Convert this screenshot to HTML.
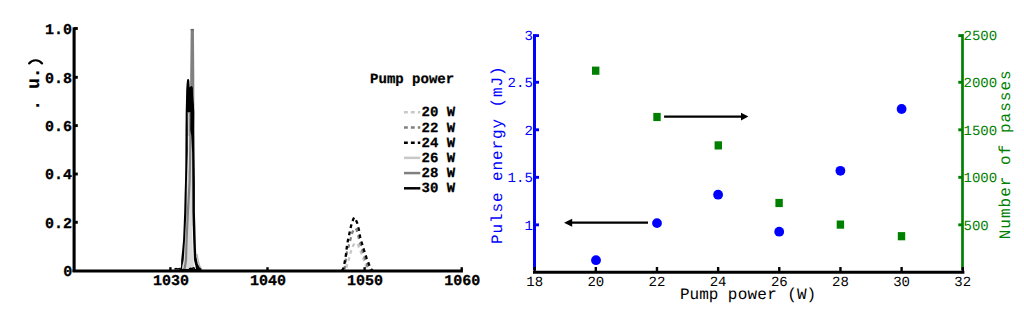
<!DOCTYPE html>
<html><head><meta charset="utf-8"><style>
html,body{margin:0;padding:0;background:#fff;width:1024px;height:314px;overflow:hidden}
svg{position:absolute;left:0;top:0}
text{font-family:"Liberation Mono", monospace;text-rendering:geometricPrecision}
.b15{font-size:15px;font-weight:bold;stroke:#000;stroke-width:0.3px}
.b14{font-size:14px;font-weight:bold;stroke:#000;stroke-width:0.25px}
.b18{font-size:18px;font-weight:bold;stroke:#000;stroke-width:0.2px}
.r14{font-size:14px}
.r16{font-size:16px}
.r17{font-size:17px}
</style></head><body>
<svg width="1024" height="314" viewBox="0 0 1024 314">
<path d="M344.00,270.70 L346.00,270.00 L347.10,265.00 L349.00,258.90 L350.70,252.20 L353.30,245.10 L355.50,243.00 L357.80,244.10 L360.90,252.20 L363.40,258.90 L365.50,264.50 L367.00,269.00 L369.00,270.70" fill="none" stroke="#c8c8c8" stroke-width="2.30" stroke-dasharray="3.80,3.50" stroke-dashoffset="3.00" stroke-linejoin="round"/>
<path d="M343.50,270.70 L344.50,269.00 L345.60,261.90 L346.60,253.30 L348.70,246.10 L350.50,239.30 L352.40,232.10 L354.50,228.30 L356.40,229.30 L358.20,235.50 L359.80,242.00 L361.80,249.00 L364.00,256.00 L366.50,263.00 L368.50,269.00 L370.00,270.70" fill="none" stroke="#808080" stroke-width="2.30" stroke-dasharray="3.80,3.50" stroke-dashoffset="5.90" stroke-linejoin="round"/>
<path d="M342.00,270.70 L343.30,268.50 L344.10,265.50 L345.90,255.30 L346.70,248.00 L347.80,241.00 L349.40,233.60 L351.00,226.20 L353.20,219.30 L354.20,217.50 L355.30,218.80 L357.00,222.40 L358.90,229.80 L360.10,236.70 L361.90,243.20 L364.00,250.20 L366.50,257.80 L369.00,264.50 L370.50,268.00 L372.00,270.30 L373.00,270.70" fill="none" stroke="#000" stroke-width="2.30" stroke-dasharray="3.80,3.50" stroke-dashoffset="0.17" stroke-linejoin="round"/>
<path d="M187.7,112 L187.8,130 L187.8,152 L186.9,182 L186.4,212 L185.0,240 L183.7,260 L182.3,266 L182,270 L196,270 L195.5,266 L194,260 L193.2,240 L192.4,212 L192.3,182 L192.1,152 L191.2,135 L190.3,130 L190.4,112 Z" fill="#dadada"/>
<path d="M187.7,112 L187.8,136 L191.2,136 L190.3,130 L190.4,112 Z" fill="#7a7a7a"/>
<path d="M188.9,113 L188.8,150 L188.4,170" stroke="#ececec" stroke-width="1.1" fill="none"/>
<path d="M192.6,226 L193.3,250 L194.2,262 L195,268" stroke="#f4f4f4" stroke-width="1.6" fill="none"/>
<path d="M197,254 L198.2,261 L199.8,266 L201.8,269.5" stroke="#b4b4b4" stroke-width="1.3" fill="none"/>
<path d="M190.7,28.9 H193.9 L194.3,76 V106 H190.2 V76 Z" fill="#808080"/><path d="M190.7,28.9 H193.9 V30.5 H190.7 Z" fill="#6a6a6a"/>
<path d="M190.6,100 L190.4,135 L190.2,152 L189.6,182 L187.9,212 L186.6,240 L186,260 L184.8,268 L183,270" stroke="#808080" stroke-width="2.2" fill="none"/>
<path fill-rule="evenodd" fill="#000" d="M176,271 L179.5,269.5 L181,267 L181.2,260 L182.2,250 L183.1,240 L183.7,225 L184.2,212 L184.6,195 L185.0,182 L185.3,165 L185.4,152 L185.5,130 L185.7,112 L186.0,100 L186.2,90 L186.6,84 L187.0,80.5 L187.6,79 L188.6,79 L189.3,80.5 L189.5,84 L189.7,87.2 L190.0,87.2 L190.4,86.6 L191.3,86.1 L192.3,86.5 L192.9,88 L193.0,94 L193.4,100 L194.1,106 L194.4,112 L194.3,130 L194.5,152 L194.9,182 L194.9,212 L195.3,225 L195.7,240 L196.0,250 L196.5,260 L197.5,265 L199,268 L201,269.5 L205,271 Z M187.7,112 L187.8,130 L187.8,152 L186.9,182 L186.4,212 L185.0,240 L183.7,260 L182.3,266 L182,269 L196,269 L195.5,266 L194,260 L193.2,240 L192.4,212 L192.3,182 L192.1,152 L191.2,135 L190.3,130 L190.4,112 Z"/>
<path d="M174.5,269.2 L176,268.6 L178,268.9 L180,268.4 M189,269 L190.5,268.2 L192,268.6 L193.3,267.8 L195,268.5" stroke="#000" stroke-width="1.5" fill="none"/>
<path d="M195.6,258 L197,264 L199,267.8 L201,269.6" stroke="#000" stroke-width="1.6" fill="none"/>
<path d="M74.1,27.3 V272" stroke="#000" stroke-width="3.1" fill="none"/>
<path d="M72.6,271.1 H462.9" stroke="#000" stroke-width="3" fill="none"/>
<path d="M74,28.5 H77.8" stroke="#000" stroke-width="2.9"/>
<path d="M74,77.3 H77.8" stroke="#000" stroke-width="2.9"/>
<path d="M74,125.6 H77.8" stroke="#000" stroke-width="2.9"/>
<path d="M74,174.0 H77.8" stroke="#000" stroke-width="2.9"/>
<path d="M74,222.3 H77.8" stroke="#000" stroke-width="2.9"/>
<path d="M170.4,271 V267.2" stroke="#000" stroke-width="2.4"/>
<path d="M267.5,271 V267.2" stroke="#000" stroke-width="2.4"/>
<path d="M364.6,271 V267.2" stroke="#000" stroke-width="2.4"/>
<path d="M461.7,271 V267.2" stroke="#000" stroke-width="2.4"/>
<text x="72.05" y="33.75" text-anchor="end" class="b15">1.0</text>
<text x="72.05" y="82.55" text-anchor="end" class="b15">0.8</text>
<text x="72.05" y="130.85" text-anchor="end" class="b15">0.6</text>
<text x="72.05" y="179.25" text-anchor="end" class="b15">0.4</text>
<text x="72.05" y="227.55" text-anchor="end" class="b15">0.2</text>
<text x="72.3" y="276.2" text-anchor="end" class="b15">0</text>
<text x="170.90" y="285.45" text-anchor="middle" class="b15">1030</text>
<text x="268.00" y="285.45" text-anchor="middle" class="b15">1040</text>
<text x="365.10" y="285.45" text-anchor="middle" class="b15">1050</text>
<text x="462.20" y="285.45" text-anchor="middle" class="b15">1060</text>
<text transform="translate(39.3,110.7) rotate(-90)" class="b18">. u.</text>
<path d="M29.1,63.5 A8.1,8.1 0 0 1 42.1,63.5" stroke="#000" stroke-width="2.1" fill="none" stroke-linecap="round"/>
<text x="370.1" y="82.5" class="b14">Pump power</text>
<path d="M404,112.20 H420.3" stroke="#c8c8c8" stroke-width="2.5" stroke-dasharray="3.8,3.1"/>
<text x="421.6" y="116.30" class="b14">20 W</text>
<path d="M404,127.42 H420.3" stroke="#808080" stroke-width="2.5" stroke-dasharray="3.8,3.1"/>
<text x="421.6" y="131.52" class="b14">22 W</text>
<path d="M404,142.64 H420.3" stroke="#000" stroke-width="2.5" stroke-dasharray="3.8,3.1"/>
<text x="421.6" y="146.74" class="b14">24 W</text>
<path d="M404,157.86 H420.3" stroke="#c8c8c8" stroke-width="2.5"/>
<text x="421.6" y="161.96" class="b14">26 W</text>
<path d="M404,173.08 H420.3" stroke="#808080" stroke-width="2.5"/>
<text x="421.6" y="177.18" class="b14">28 W</text>
<path d="M404,188.30 H420.3" stroke="#000" stroke-width="2.5"/>
<text x="421.6" y="192.40" class="b14">30 W</text>
<path d="M534.5,34.1 V270" stroke="#0000ff" stroke-width="3"/>
<path d="M962.5,34.1 V270" stroke="#008000" stroke-width="2.7"/>
<path d="M534.5,35.60 H539" stroke="#0000ff" stroke-width="2.9"/>
<path d="M962.5,35.60 H958.3" stroke="#008000" stroke-width="2.9"/>
<text x="532.8" y="39.95" text-anchor="end" class="r14" fill="#0000ff">3</text>
<text x="963.5" y="39.95" class="r14" fill="#008000">2500</text>
<path d="M534.5,82.28 H539" stroke="#0000ff" stroke-width="2.9"/>
<path d="M962.5,82.28 H958.3" stroke="#008000" stroke-width="2.9"/>
<text x="532.8" y="87.18" text-anchor="end" class="r14" fill="#0000ff">2.5</text>
<text x="963.5" y="86.98" class="r14" fill="#008000">2000</text>
<path d="M534.5,129.80 H539" stroke="#0000ff" stroke-width="2.9"/>
<path d="M962.5,129.80 H958.3" stroke="#008000" stroke-width="2.9"/>
<text x="532.8" y="134.70" text-anchor="end" class="r14" fill="#0000ff">2</text>
<text x="963.5" y="134.50" class="r14" fill="#008000">1500</text>
<path d="M534.5,177.32 H539" stroke="#0000ff" stroke-width="2.9"/>
<path d="M962.5,177.32 H958.3" stroke="#008000" stroke-width="2.9"/>
<text x="532.8" y="182.22" text-anchor="end" class="r14" fill="#0000ff">1.5</text>
<text x="963.5" y="182.02" class="r14" fill="#008000">1000</text>
<path d="M534.5,224.85 H539" stroke="#0000ff" stroke-width="2.9"/>
<path d="M962.5,224.85 H958.3" stroke="#008000" stroke-width="2.9"/>
<text x="532.8" y="229.75" text-anchor="end" class="r14" fill="#0000ff">1</text>
<text x="963.5" y="229.55" class="r14" fill="#008000">500</text>
<path d="M533,272.2 H964.4" stroke="#000" stroke-width="2.9"/>
<path d="M534.65,272.2 V267" stroke="#000" stroke-width="2.4"/>
<text x="534.65" y="285.7" text-anchor="middle" class="r14">18</text>
<path d="M595.81,272.2 V267" stroke="#000" stroke-width="2.4"/>
<text x="595.81" y="285.7" text-anchor="middle" class="r14">20</text>
<path d="M656.97,272.2 V267" stroke="#000" stroke-width="2.4"/>
<text x="656.97" y="285.7" text-anchor="middle" class="r14">22</text>
<path d="M718.13,272.2 V267" stroke="#000" stroke-width="2.4"/>
<text x="718.13" y="285.7" text-anchor="middle" class="r14">24</text>
<path d="M779.29,272.2 V267" stroke="#000" stroke-width="2.4"/>
<text x="779.29" y="285.7" text-anchor="middle" class="r14">26</text>
<path d="M840.45,272.2 V267" stroke="#000" stroke-width="2.4"/>
<text x="840.45" y="285.7" text-anchor="middle" class="r14">28</text>
<path d="M901.61,272.2 V267" stroke="#000" stroke-width="2.4"/>
<text x="901.61" y="285.7" text-anchor="middle" class="r14">30</text>
<path d="M962.77,272.2 V267" stroke="#000" stroke-width="2.4"/>
<text x="962.77" y="285.7" text-anchor="middle" class="r14">32</text>
<text x="679.93" y="298.6" class="r16">Pump</text><text x="727.8" y="298.6" class="r16" letter-spacing="0.25">power</text><text x="787.3" y="298.6" class="r16">(W)</text>
<text transform="translate(502.3,243.9) rotate(-90)" class="r16" fill="#0000ff" letter-spacing="0.9">Pulse energy (mJ)</text>
<text transform="translate(1009.8,239.3) rotate(-90)" class="r16" fill="#008000" letter-spacing="1.02">Number of passes</text>
<circle cx="596.0" cy="260.2" r="4.9" fill="#0000ff"/>
<circle cx="657.0" cy="223.1" r="4.9" fill="#0000ff"/>
<circle cx="718.1" cy="194.7" r="4.9" fill="#0000ff"/>
<circle cx="779.2" cy="231.7" r="4.9" fill="#0000ff"/>
<circle cx="840.4" cy="170.8" r="4.9" fill="#0000ff"/>
<circle cx="901.6" cy="109.0" r="4.9" fill="#0000ff"/>
<rect x="592.00" y="66.60" width="7.4" height="8.2" fill="#008000"/>
<rect x="653.30" y="112.90" width="7.4" height="8.2" fill="#008000"/>
<rect x="714.60" y="141.30" width="7.4" height="8.2" fill="#008000"/>
<rect x="775.40" y="198.90" width="7.4" height="8.2" fill="#008000"/>
<rect x="836.70" y="220.50" width="7.4" height="8.2" fill="#008000"/>
<rect x="897.80" y="232.10" width="7.4" height="8.2" fill="#008000"/>
<path d="M664.1,116.6 H742" stroke="#000" stroke-width="2.3"/>
<path d="M741,112.8 L748.4,116.6 L741,120.6 Z" fill="#000"/>
<path d="M571,222.6 H648" stroke="#000" stroke-width="2.3"/>
<path d="M572.2,218.8 L564,222.7 L572.2,226.8 Z" fill="#000"/>
</svg>
</body></html>
